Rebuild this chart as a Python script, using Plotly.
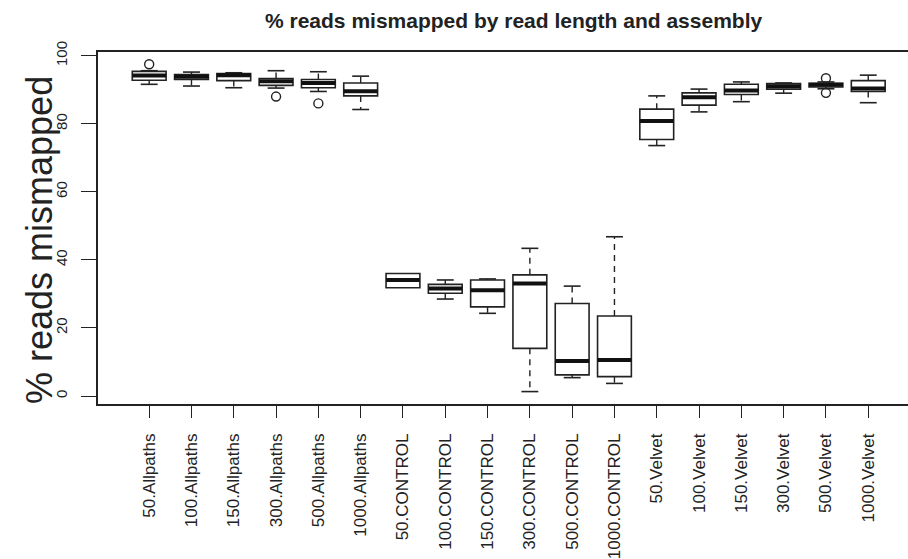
import plotly.graph_objects as go

categories = ["50.Allpaths", "100.Allpaths", "150.Allpaths", "300.Allpaths", "500.Allpaths", "1000.Allpaths",
              "50.CONTROL", "100.CONTROL", "150.CONTROL", "300.CONTROL", "500.CONTROL", "1000.CONTROL",
              "50.Velvet", "100.Velvet", "150.Velvet", "300.Velvet", "500.Velvet", "1000.Velvet"]
lower = [91.6, 91.1, 90.6, 90.5, 89.5, 84.2, 31.8, 28.5, 24.3, 1.3, 5.4, 3.7, 73.6, 83.5, 86.5, 89.0, 90.3, 86.2]
q1 = [92.8, 93.0, 92.7, 91.3, 90.6, 88.2, 31.8, 30.2, 26.2, 14.0, 6.2, 5.7, 75.4, 85.5, 88.6, 90.2, 90.8, 89.5]
median = [94.2, 93.8, 94.3, 92.5, 92.0, 89.6, 34.1, 31.6, 31.1, 33.1, 10.3, 10.6, 80.8, 87.8, 89.8, 91.0, 91.5, 90.4]
q3 = [95.4, 94.5, 94.8, 93.3, 93.0, 92.0, 36.0, 32.8, 34.1, 35.6, 27.2, 23.5, 84.3, 89.1, 91.6, 91.8, 91.9, 92.7]
upper = [95.6, 95.2, 95.0, 95.6, 95.3, 94.0, 36.0, 34.1, 34.4, 43.4, 32.3, 46.8, 88.2, 90.2, 92.3, 92.0, 92.3, 94.3]
outlier_labels = ["50.Allpaths", "300.Allpaths", "500.Allpaths", "500.Velvet", "500.Velvet"]
outlier_values = [97.5, 88.0, 86.0, 93.4, 89.1]
y_ticks = [0, 20, 40, 60, 80, 100]

title_text = "% reads mismapped by read length and assembly"
ylabel = "% reads mismapped"

INK = "#222222"
FONT = "Liberation Sans, Arial, sans-serif"
BOXW = 0.8
STAPLE = 0.2

xpos = list(range(1, len(categories) + 1))

fig = go.Figure()

# box bodies (whiskers drawn separately as dashed lines)
fig.add_trace(go.Box(
    x=xpos, q1=q1, median=median, q3=q3, lowerfence=q1, upperfence=q3,
    width=BOXW, whiskerwidth=0, fillcolor="white",
    line=dict(color=INK, width=1.6), boxpoints=False, showlegend=False, hoverinfo="skip"))

# dashed whiskers and solid staples
wx, wy, sx, sy = [], [], [], []
for x, lo, a, b, hi in zip(xpos, lower, q1, q3, upper):
    if hi > b:
        wx += [x, x, None]; wy += [b, hi, None]
        sx += [x - STAPLE, x + STAPLE, None]; sy += [hi, hi, None]
    if lo < a:
        wx += [x, x, None]; wy += [a, lo, None]
        sx += [x - STAPLE, x + STAPLE, None]; sy += [lo, lo, None]
fig.add_trace(go.Scatter(x=wx, y=wy, mode="lines", line=dict(color=INK, width=1.4, dash="6px,5px"),
                         showlegend=False, hoverinfo="skip"))
fig.add_trace(go.Scatter(x=sx, y=sy, mode="lines", line=dict(color=INK, width=1.6),
                         showlegend=False, hoverinfo="skip"))

# thick medians
mx, my = [], []
for x, m in zip(xpos, median):
    mx += [x - BOXW / 2, x + BOXW / 2, None]; my += [m, m, None]
fig.add_trace(go.Scatter(x=mx, y=my, mode="lines", line=dict(color="#111", width=4),
                         showlegend=False, hoverinfo="skip"))

# outliers
ox = [categories.index(c) + 1 for c in outlier_labels]
fig.add_trace(go.Scatter(x=ox, y=outlier_values, mode="markers",
                         marker=dict(symbol="circle-open", size=9, color=INK, line=dict(width=1.4)),
                         showlegend=False))

fig.update_layout(
    width=908, height=559,
    margin=dict(l=98, r=0, t=52, b=155, pad=0),
    plot_bgcolor="white", paper_bgcolor="white",
    font=dict(family=FONT, color=INK),
    showlegend=False,
)
fig.update_xaxes(
    range=[-0.21, 18.94], tickmode="array", tickvals=xpos, ticktext=categories,
    tickangle=-90, ticks="outside", ticklen=12, tickwidth=1.3, tickcolor=INK,
    showline=True, linecolor=INK, linewidth=1.6, mirror=True, automargin=False,
    showgrid=False, zeroline=False, tickfont=dict(size=17, family=FONT, color=INK),
    ticklabelstandoff=9,
)
fig.update_yaxes(
    range=[-2.35, 101.1], tickmode="array", tickvals=y_ticks, ticktext=[str(t) for t in y_ticks],
    tickangle=-90, ticks="outside", ticklen=15, tickwidth=1.3, tickcolor=INK,
    showline=True, linecolor=INK, linewidth=1.6, mirror=False, automargin=False,
    showgrid=False, zeroline=False, tickfont=dict(size=15, family=FONT, color=INK),
    ticklabelstandoff=8,
)

fig.add_annotation(text="<b>" + title_text + "</b>", xref="paper", yref="paper",
                   x=(513 - 98) / 810, y=1 + (52 - 21) / 352, xanchor="center", yanchor="middle",
                   showarrow=False, font=dict(size=21, family=FONT, color="#222"))
fig.add_annotation(text=ylabel, xref="paper", yref="paper",
                   x=(39 - 98) / 810, y=(404 - 240) / 352, xanchor="center", yanchor="middle",
                   textangle=-90, showarrow=False, font=dict(size=36, family=FONT, color="#222"))

fig.write_html("out.html")
